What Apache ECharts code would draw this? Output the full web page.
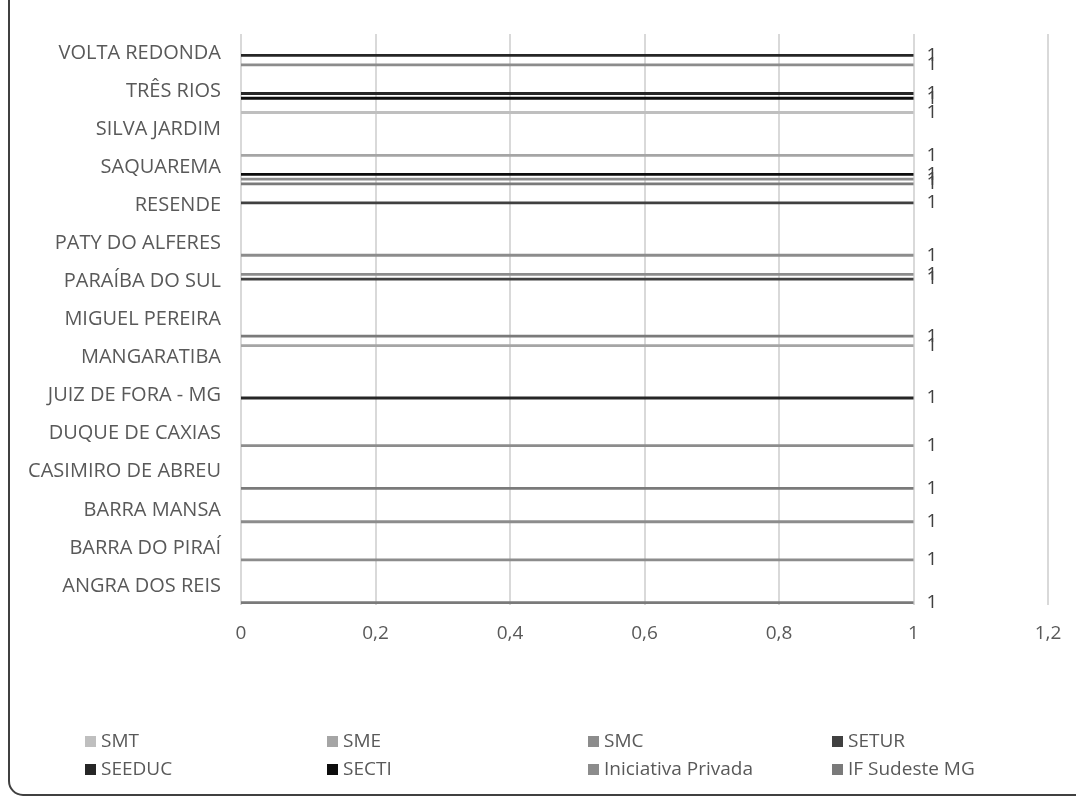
<!DOCTYPE html>
<html>
<head>
<meta charset="utf-8">
<script src="https://cdn.jsdelivr.net/npm/echarts@6/dist/echarts.min.js"></script>
<style>
html,body{margin:0;padding:0;background:#fff;}
#chart{width:1076px;height:798px;}
</style>
</head>
<body>
<div id="chart"></div>
<script>
// Categories (bottom to top on the axis)
const categories = ['ANGRA DOS REIS','BARRA DO PIRAÍ','BARRA MANSA','CASIMIRO DE ABREU','DUQUE DE CAXIAS','JUIZ DE FORA - MG','MANGARATIBA','MIGUEL PEREIRA','PARAÍBA DO SUL','PATY DO ALFERES','RESENDE','SAQUAREMA','SILVA JARDIM','TRÊS RIOS','VOLTA REDONDA'];
const seriesNames = ['SMT','SME','SMC','SETUR','SEEDUC','SECTI','Iniciativa Privada','IF Sudeste MG'];
const N = null;
// values per series, in category order (null = no bar)
const smt     = [N,N,N,N,N,N,N,N,N,N,N,N,1,N,N];
const sme     = [N,N,N,N,N,N,1,N,N,N,N,1,N,N,N];
const smc     = [N,N,N,N,N,N,N,N,1,N,N,N,N,N,N];
const setur   = [N,N,N,N,N,N,N,N,1,N,1,N,N,N,N];
const seeduc  = [N,N,N,N,N,1,N,N,N,N,N,N,N,1,1];
const secti   = [N,N,N,N,N,N,N,N,N,N,N,1,N,1,N];
const inicPriv= [N,1,1,N,1,N,N,N,N,1,N,1,N,N,1];
const ifSud   = [1,N,N,1,N,N,N,1,N,N,N,1,N,N,N];
const xTicks = [0,0.2,0.4,0.6,0.8,1,1.2];

const values = [smt,sme,smc,setur,seeduc,secti,inicPriv,ifSud];
const colors = ['#bfbfbf','#a5a5a5','#8c8c8c','#404040','#262626','#0d0d0d','#8c8c8c','#7a7a7a'];
const FONT = 'Open Sans';
const TXT = '#595959';

const chart = echarts.init(document.getElementById('chart'), null, {renderer:'canvas'});

const series = seriesNames.map((name, i) => ({
  name: name,
  type: 'bar',
  data: values[i],
  barWidth: 2.8,
  barGap: '70%',
  itemStyle: {color: colors[i]},
  label: {
    show: true,
    position: 'right',
    distance: 13,
    formatter: '{c}',
    color: '#404040',
    fontFamily: FONT,
    fontSize: 19
  },
  emphasis: {disabled: true},
  animation: false
}));

const legendCols = [
  {items:['SMT','SEEDUC'], left:80},
  {items:['SME','SECTI'], left:322},
  {items:['SMC','Iniciativa Privada'], left:583},
  {items:['SETUR','IF Sudeste MG'], left:827}
];

const option = {
  backgroundColor: '#ffffff',
  animation: false,
  grid: {left: 241, right: 28, top: 34, bottom: 193, containLabel: false},
  xAxis: {
    type: 'value',
    min: xTicks[0],
    max: xTicks[xTicks.length-1],
    interval: 0.2,
    axisLine: {show: false},
    axisTick: {show: false},
    splitLine: {show: true, lineStyle: {color: '#d9d9d9', width: 2}},
    axisLabel: {
      color: TXT, fontFamily: FONT, fontSize: 19, margin: 19,
      formatter: v => String(Math.round(v*10)/10).replace('.', ',')
    }
  },
  yAxis: {
    type: 'category',
    data: categories,
    axisLine: {show: false},
    axisTick: {show: false},
    axisLabel: {color: TXT, fontFamily: FONT, fontSize: 20, margin: 20}
  },
  legend: legendCols.map(c => ({
    data: c.items,
    left: c.left,
    top: 727,
    orient: 'vertical',
    icon: 'rect',
    itemWidth: 11,
    itemHeight: 11,
    itemGap: 9,
    selectedMode: false,
    textStyle: {color: TXT, fontFamily: FONT, fontSize: 19}
  })),
  graphic: [{
    type: 'rect',
    shape: {x: 9, y: -40, width: 1200, height: 835, r: 14},
    style: {fill: 'none', stroke: '#404040', lineWidth: 2},
    silent: true
  }],
  series: series
};
chart.setOption(option);
</script>
</body>
</html>
